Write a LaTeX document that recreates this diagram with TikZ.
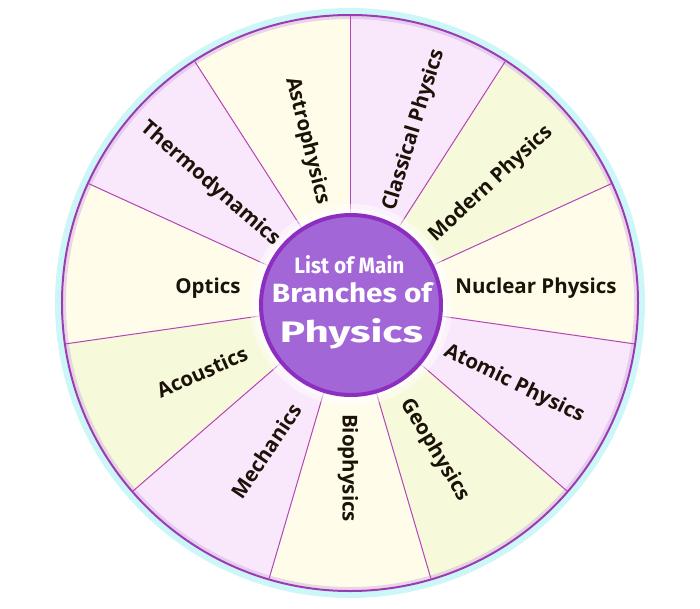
\documentclass[tikz,border=0pt]{standalone}
\usepackage{fontspec}
\usepackage{graphicx}
\setmainfont{Open Sans}
\newfontfamily\titlefont{Fira Sans}
\definecolor{pinkS}{HTML}{F9E8FB}
\definecolor{greenS}{HTML}{F6F9DA}
\definecolor{creamS}{HTML}{FFFDEA}
\definecolor{lineC}{HTML}{B444B8}
\definecolor{rimC}{HTML}{9A3CB4}
\definecolor{glowC}{HTML}{CDF6F8}
\definecolor{hubFill}{HTML}{A266D6}
\definecolor{hubRim}{HTML}{8C2EC0}
\definecolor{txtC}{HTML}{1B1208}
\tikzset{
  lbl/.style={font=\bfseries\fontsize{20.5}{23}\selectfont, text=txtC, inner sep=0pt},
  ttl/.style={text=white, inner sep=0pt, anchor=base},
  secline/.style={draw=lineC, line width=1pt}
}
\begin{document}
\begin{tikzpicture}[x=1pt,y=1pt]
\useasboundingbox (-350,-305) rectangle (350,303);
% sectors
\foreach \k/\c in {0/pinkS,1/greenS,2/creamS,3/pinkS,4/greenS,5/creamS,6/pinkS,7/greenS,8/creamS,9/pinkS,10/creamS}{
  \pgfmathsetmacro{\sa}{90-\k*360/11}
  \pgfmathsetmacro{\ea}{90-(\k+1)*360/11}
  \fill[\c] (0,0) -- (\sa:288) arc[start angle=\sa, end angle=\ea, radius=288pt] -- cycle;
}
% outer rim
\draw[glowC, line width=7pt] (0,0) circle (291.5pt);
\draw[rimC!35, line width=3pt, opacity=0.6] (0,0) circle (285.5pt);
\draw[rimC, line width=2pt] (0,0) circle (288pt);
% dividing lines
\foreach \k in {0,...,10}{
  \pgfmathsetmacro{\sa}{90-\k*360/11}
  \draw[secline] (\sa:90) -- (\sa:287);
}
% hub glow
\fill[white, opacity=0.45] (1,-2) circle (101pt);
\fill[white, opacity=0.5] (1,-2) circle (96pt);
% hub
\node[circle, fill=hubFill, draw=hubRim, line width=4pt, minimum size=180pt, inner sep=0pt] (hub) at (1,-2) {};
\node[ttl] (t1) at (-0.5,30) {\resizebox{110pt}{18pt}{\titlefont\bfseries List of Main}};
\node[ttl] (t2) at (2,1) {\resizebox{160pt}{20pt}{\titlefont\bfseries Branches of}};
\node[ttl] (t3) at (1.5,-39) {\resizebox{143pt}{24pt}{\titlefont\bfseries Physics}};
% labels
\node[lbl, rotate=-76] (astro) at (-43,162) {Astrophysics};
\node[lbl, rotate=73] (classical) at (64,173) {Classical Physics};
\node[lbl, rotate=43] (modern) at (141,119) {Modern Physics};
\node[lbl] (nuclear) at (186,15) {Nuclear Physics};
\node[lbl, rotate=-26] (atomic) at (164,-81) {Atomic Physics};
\node[lbl, rotate=-59] (geo) at (85,-147) {Geophysics};
\node[lbl, rotate=-90] (bio) at (-2,-165) {Biophysics};
\node[lbl, rotate=56] (mech) at (-84,-148) {Mechanics};
\node[lbl, rotate=24] (acou) at (-148,-69) {Acoustics};
\node[lbl] (optics) at (-142,15) {Optics};
\node[lbl, rotate=-41] (thermo) at (-140,119) {Thermodynamics};
\end{tikzpicture}
\end{document}
